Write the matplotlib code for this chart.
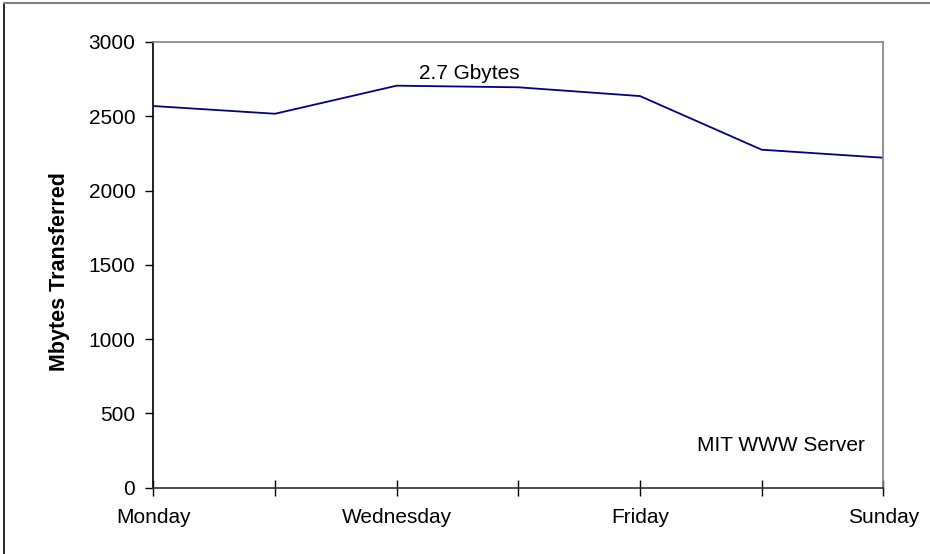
import matplotlib
matplotlib.use("Agg")
import matplotlib.pyplot as plt
from matplotlib.lines import Line2D

days = ["Monday", "Tuesday", "Wednesday", "Thursday", "Friday", "Saturday", "Sunday"]
shown_labels = ["Monday", "", "Wednesday", "", "Friday", "", "Sunday"]
mbytes = [2569, 2517, 2706, 2695, 2636, 2275, 2221]
y_ticks = [0, 500, 1000, 1500, 2000, 2500, 3000]

plt.rcParams["font.family"] = ["Liberation Sans", "DejaVu Sans"]

fig = plt.figure(figsize=(9.3, 5.54), dpi=100)
ax = fig.add_axes([0.1649, 0.1197, 0.7849, 0.8045])

x = list(range(len(days)))
ax.plot(x, mbytes, color="#000080", linewidth=1.3)

ax.set_xlim(0, len(days) - 1)
ax.set_ylim(0, 3000)
ax.set_yticks(y_ticks)
ax.set_xticks(x)
ax.set_xticklabels(shown_labels)

ax.tick_params(axis="y", direction="out", length=6, width=1, labelsize=15, pad=7)
ax.tick_params(axis="x", direction="inout", length=11, width=1, labelsize=15, pad=9)

ax.spines["left"].set_color("black")
ax.spines["bottom"].set_color("#303030")
ax.spines["top"].set_color("#808080")
ax.spines["right"].set_color("#808080")
for s in ax.spines.values():
    s.set_linewidth(1.2)

ax.set_ylabel("Mbytes Transferred", fontsize=15.5, fontweight="bold")
ax.yaxis.set_label_coords(-0.114, 0.485)

ax.text(2.6, 2791, "2.7 Gbytes", fontsize=15, ha="center", va="center")
ax.text(5.85, 287, "MIT WWW Server", fontsize=15, ha="right", va="center")

# outer frame (top and left edges visible)
fig.add_artist(Line2D([3.5 / 930, 3.5 / 930], [0, 1 - 2.5 / 554], transform=fig.transFigure,
                      color="black", linewidth=1.2))
fig.add_artist(Line2D([3.5 / 930, 1], [1 - 2.5 / 554, 1 - 2.5 / 554], transform=fig.transFigure,
                      color="#808080", linewidth=1.5))

fig.savefig("out.png", dpi=100)
